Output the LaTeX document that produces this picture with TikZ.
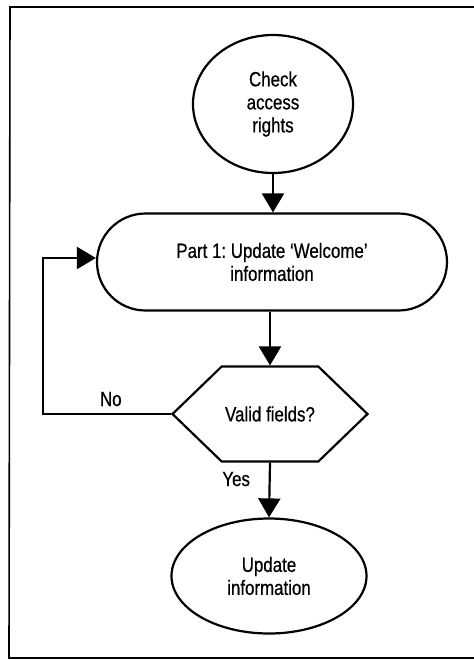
\documentclass[tikz,border=0pt]{standalone}
\usepackage{fontspec}
\setmainfont[FakeStretch=0.82,FakeBold=0.6]{Liberation Sans}
\usetikzlibrary{shapes.geometric,shapes.misc,shapes.symbols,arrows.meta}
\frenchspacing
\tikzset{
  flowtext/.style={font=\fontsize{10.3}{11.5}\selectfont,align=center,line width=1.1pt},
  startnode/.style={flowtext,draw,ellipse,minimum width=80pt,minimum height=69pt,inner sep=0pt},
  procnode/.style={flowtext,draw,rounded rectangle,minimum width=175pt,minimum height=48.5pt,inner sep=0pt},
  testnode/.style={flowtext,draw,signal,signal to=east and west,signal pointer angle=88,minimum width=97.5pt,minimum height=47.5pt,inner sep=0pt},
  endnode/.style={flowtext,draw,ellipse,minimum width=97.5pt,minimum height=57.5pt,inner sep=0pt},
  flowarrow/.style={->,line width=1.1pt},
  edgelabel/.style={font=\fontsize{10.3}{11.5}\selectfont}
}
\begin{document}
\begin{tikzpicture}[x=0.5pt,y=-0.5pt,>={Triangle[length=9.5pt,width=11pt]}]
\useasboundingbox (0,0) rectangle (474,660);
\draw[line width=0.8pt] (474,7) -- (10,7) -- (9,658) -- (474,658);
\node[startnode] (check) at (273,104) {Check\\access\\rights};
\node[procnode] (part1) at (272,262) {Part 1: Update `Welcome'\\information};
\node[testnode] (valid) at (270,414) {Valid fields?};
\node[endnode] (update) at (269,576) {Update\\information};
\coordinate (nocorner) at (43,414);
\coordinate (upcorner) at (43,258);
\draw[flowarrow] (check) -- (check|-part1.north);
\draw[flowarrow] (part1.south-|valid) -- (valid.north);
\draw[flowarrow] (valid.west) -- node[edgelabel,above,pos=0.47] {No} (nocorner) -- (upcorner) -- (upcorner-|part1.west);
\draw[flowarrow] (valid.south) -- node[edgelabel,left,xshift=-6pt,pos=0.3] {Yes} (update.north);
\end{tikzpicture}
\end{document}
